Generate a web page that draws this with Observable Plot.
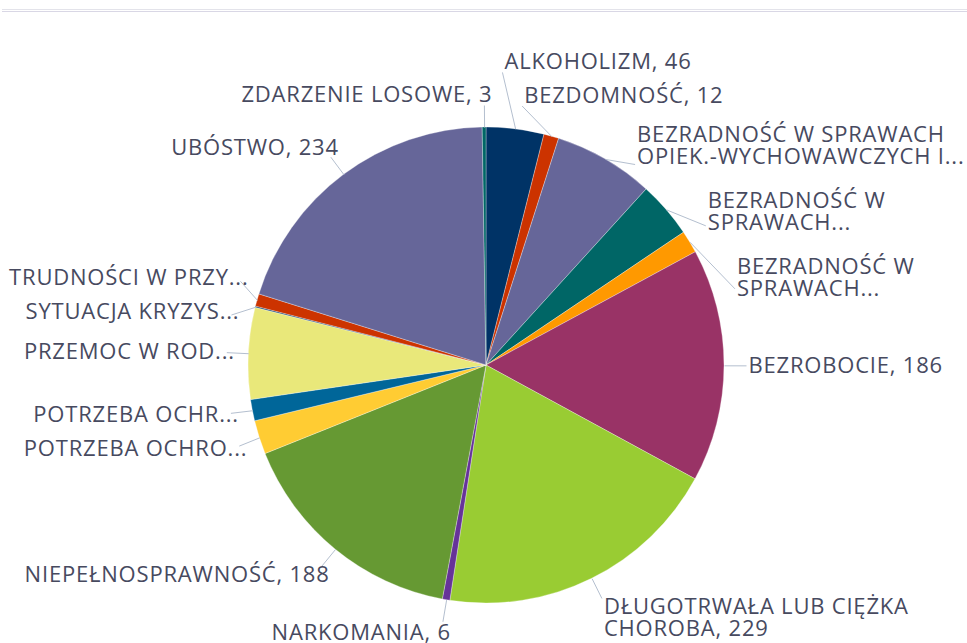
<!DOCTYPE html>
<html><head><meta charset="utf-8">
<script src="https://cdn.jsdelivr.net/npm/d3@7"></script>
<script src="https://cdn.jsdelivr.net/npm/@observablehq/plot@0.6"></script>
<style>
html,body{margin:0;padding:0;background:#fff;overflow:hidden}
#wrap{position:relative;width:967px;height:643px;background:#fff}
.rule1{position:absolute;left:2px;right:0;top:9px;height:1px;background:#e3e3ea}
.rule2{position:absolute;left:2px;right:0;top:11px;height:1px;background:#d9d7e5}
#chart{position:absolute;left:0;top:0}
</style></head><body>
<div id="wrap"><div class="rule1"></div><div class="rule2"></div><div id="chart"></div></div>
<script>
// ---- data (clockwise from 12 o'clock) ----
const categories = [
  "ALKOHOLIZM",
  "BEZDOMNOŚĆ",
  "BEZRADNOŚĆ W SPRAWACH\nOPIEK.-WYCHOWAWCZYCH I...",
  "BEZRADNOŚĆ W\nSPRAWACH...",
  "BEZRADNOŚĆ W\nSPRAWACH...",
  "BEZROBOCIE",
  "DŁUGOTRWAŁA LUB CIĘŻKA\nCHOROBA",
  "NARKOMANIA",
  "NIEPEŁNOSPRAWNOŚĆ",
  "POTRZEBA OCHRO...",
  "POTRZEBA OCHR...",
  "PRZEMOC W ROD...",
  "SYTUACJA KRYZYS...",
  "TRUDNOŚCI W PRZY...",
  "UBÓSTWO",
  "ZDARZENIE LOSOWE"
];
const values = [46, 12, 80, 45, 18, 186, 229, 6, 188, 27, 17, 73, 1, 10, 234, 3];
const palette = ["#003366", "#cc3300", "#666699", "#006666", "#ff9900", "#993366",
                 "#99cc33", "#663399", "#669933", "#ffcc33", "#006699", "#e9e87a"];

// ---- layout constants ----
const W = 967, H = 643, CX = 486, CY = 365, R = 238, ROFF = 22, FS = 22, LH = 22, TOPB = 50, LS = 0.8;
const FONT = "'Open Sans', sans-serif";

const ctx = document.createElement("canvas").getContext("2d");
ctx.font = `${FS}px ${FONT}`;
const textWidth = s => d3.max(s.split("\n"), l => ctx.measureText(l).width + LS * l.length);

const rows = categories.map((c, i) => ({name: c, value: values[i], color: palette[i % palette.length]}));
const arcs = d3.pie().sort(null).value(d => d.value)(rows);

const labels = arcs.map(a => {
  const t = (a.startAngle + a.endAngle) / 2, ux = Math.sin(t), uy = -Math.cos(t);
  const name = a.data.name;
  const text = name.endsWith("...") ? name : name + ", " + a.data.value;
  const n = text.split("\n").length, h = n * LH;
  return {text, n, h, w: textWidth(text), ux, uy, side: ux >= 0 ? 1 : -1,
          ex: CX + R * ux, ey: CY + R * uy, ax: CX + (R + ROFF) * ux,
          y: CY + (R + ROFF) * uy + uy * h / 2};
});
for (const s of [1, -1]) {
  const L = labels.filter(d => d.side === s).sort((a, b) => a.y - b.y);
  for (let it = 0; it < 3000; it++) {
    let moved = false;
    for (let k = 0; k < L.length - 1; k++) {
      const need = 2 + 16 * (L[k].n + L[k + 1].n), diff = L[k + 1].y - L[k].y;
      if (diff < need - 0.01) { const sh = (need - diff) / 2; L[k].y -= sh; L[k + 1].y += sh; moved = true; }
    }
    const top = TOPB + L[0].h / 2;
    if (L[0].y < top - 0.01) { L[0].y = top; moved = true; }
    if (!moved) break;
  }
}
const RL = R + ROFF;
for (const d of labels) {
  d.ay = d.y - d.uy * d.h / 2;
  const dy = d.ay - CY;
  const dx = Math.max(Math.sqrt(Math.max(RL * RL - dy * dy, 0)), 0.5 * Math.abs(d.ax - CX));
  d.lx = CX + d.side * dx;
  if (d.side > 0) {
    d.tx = Math.min(d.lx + 2, W - 3 - d.w);
    d.lx = Math.min(d.lx, d.tx - 2);
  } else {
    d.tx = Math.max(d.lx + 8, 3 + d.w);
  }
}

function pieMark(index, scales, vals, dims, context) {
  const cx = scales.x(CX), cy = scales.y(CY), r = scales.x(CX + R) - scales.x(CX);
  const arc = d3.arc().innerRadius(0).outerRadius(r);
  const g = d3.create("svg:g").attr("transform", `translate(${cx},${cy})`);
  g.selectAll("path").data(arcs).join("path")
    .attr("d", arc).attr("fill", d => d.data.color)
    .attr("stroke", "#ffffff").attr("stroke-width", 0.5).attr("stroke-opacity", 0.6);
  return g.node();
}

const textOpts = {x: "tx", y: "y", text: "text", lineAnchor: "middle", fontSize: FS,
                  lineHeight: LH / FS, fill: "#474a5f"};
const plot = Plot.plot({
  width: W, height: H, margin: 0,
  x: {domain: [0, W], range: [0, W]},
  y: {domain: [0, H], range: [0, H]},
  axis: null,
  style: {background: "transparent", fontFamily: FONT, letterSpacing: LS + "px"},
  marks: [
    pieMark,
    Plot.link(labels, {x1: "ex", y1: "ey", x2: "lx", y2: "ay", stroke: "#b4bfcf", strokeWidth: 1}),
    Plot.text(labels.filter(d => d.side > 0), {...textOpts, textAnchor: "start"}),
    Plot.text(labels.filter(d => d.side < 0), {...textOpts, textAnchor: "end"})
  ]
});
document.getElementById("chart").appendChild(plot);
</script>
</body></html>
